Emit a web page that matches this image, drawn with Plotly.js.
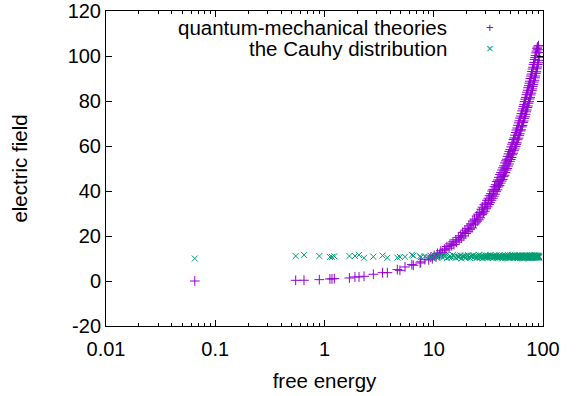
<!DOCTYPE html>
<html>
<head>
<meta charset="utf-8">
<script src="https://cdn.plot.ly/plotly-3.0.1.min.js"></script>
<style>html,body{margin:0;padding:0;background:#fff;}#chart{width:578px;height:396px;}</style>
</head>
<body>
<div id="chart"></div>
<script>
const seriesNames = ["quantum-mechanical theories", "the Cauhy distribution"];
const xTitle = "free energy";
const yTitle = "electric field";

const freeEnergy = [
0.065, 0.545, 0.649, 0.897, 1.12, 1.17, 1.23, 1.69, 1.90, 2.07, 2.30, 2.80, 3.40, 3.76, 4.64, 4.90, 5.46, 6.30, 6.50, 7.50, 7.60, 8.30,
9.0, 9.4, 9.7, 10.1, 10.5, 10.8, 11.3, 11.6, 12.0, 12.5, 12.9, 13.2, 13.8, 14.1, 14.6, 15.0, 15.3, 15.9, 16.2, 16.8, 17.1, 17.5, 18.0, 18.4,
18.9, 19.3, 19.6, 20.2, 20.7, 21.0, 21.5, 21.9, 22.4, 22.8, 23.3, 23.6, 24.1, 24.7, 25.0, 25.4, 25.9, 26.3, 26.6, 27.2, 27.7, 28.0, 28.5, 29.0,
29.3, 29.8, 30.2, 30.7, 31.1, 31.6, 32.0, 32.4, 32.9, 33.3, 33.8, 34.2, 34.7, 35.1, 35.5, 36.0, 36.4, 36.9, 37.3, 37.8, 38.2, 38.6, 39.1, 39.5,
40.0, 40.4, 40.9, 41.3, 41.8, 42.2, 42.7, 43.1, 43.5, 44.0, 44.4, 44.9, 45.3, 45.8, 46.2, 46.6, 47.1, 47.5, 48.0, 48.4, 48.9, 49.3, 49.8, 50.2,
50.6, 51.1, 51.5, 52.0, 52.4, 52.9, 53.3, 53.7, 54.2, 54.6, 55.1, 55.5, 56.0, 56.4, 56.8, 57.3, 57.7, 58.2, 58.6, 59.1, 59.5, 60.0, 60.4, 60.8,
61.3, 61.7, 62.2, 62.6, 63.1, 63.5, 63.9, 64.4, 64.8, 65.3, 65.7, 66.2, 66.6, 67.0, 67.5, 67.9, 68.4, 68.8, 69.3, 69.7, 70.1, 70.6, 71.0, 71.5,
71.9, 72.4, 72.8, 73.2, 73.7, 74.1, 74.6, 75.0, 75.5, 75.9, 76.3, 76.8, 77.2, 77.7, 78.1, 78.6, 79.0, 79.4, 79.9, 80.3, 80.8, 81.2, 81.7, 82.1,
82.5, 83.0, 83.4, 83.9, 84.3, 84.8, 85.2, 85.6, 86.1, 86.5, 87.0, 87.4, 87.9, 88.3, 88.7, 89.2, 89.6, 90.1, 90.5, 91.0, 91.4, 91.8, 92.3
];

const quantumField = [
0.0, 0.31, 0.33, 0.6, 0.9, 0.95, 1.05, 1.35, 1.8, 1.8, 2.1, 3.0, 3.7, 3.7, 5.05, 4.75, 6.24, 7.3, 7.0, 8.0, 8.5, 9.5,
9.4, 10.6, 9.9, 11.3, 10.7, 12.3, 11.8, 13.4, 12.6, 14.2, 13.8, 15.3, 14.6, 16.5, 15.7, 17.4, 16.2, 18.3, 17.3, 19.4, 18.2, 20.1, 19.1, 21.6,
20.0, 22.6, 21.1, 23.4, 22.1, 24.5, 23.0, 25.4, 23.6, 26.7, 25.0, 27.5, 25.8, 28.9, 26.6, 29.7, 27.2, 30.5, 28.1, 31.9, 29.5, 32.8, 30.2, 33.9,
31.0, 34.6, 32.1, 35.9, 33.0, 36.8, 34.0, 37.9, 34.8, 38.8, 35.9, 40.0, 36.8, 40.7, 37.7, 41.9, 38.6, 42.8, 39.7, 44.2, 40.5, 44.9, 41.8, 46.1,
42.4, 47.3, 43.5, 48.2, 44.4, 49.3, 45.1, 50.3, 46.4, 51.2, 47.0, 52.5, 48.2, 53.4, 49.3, 54.1, 50.0, 55.4, 51.1, 56.5, 52.0, 57.6, 53.2, 58.4,
54.0, 59.6, 54.9, 60.8, 56.1, 61.5, 56.8, 62.9, 57.9, 63.6, 58.7, 64.8, 59.8, 66.0, 60.7, 67.1, 61.4, 68.0, 62.8, 69.2, 63.5, 70.3, 64.6, 71.2,
65.4, 72.4, 66.7, 73.3, 67.2, 74.4, 68.5, 75.6, 69.1, 76.5, 70.4, 77.6, 71.1, 78.5, 72.3, 79.7, 73.0, 80.8, 74.1, 81.6, 75.2, 82.8, 76.0, 83.9,
77.1, 84.8, 77.8, 85.9, 79.0, 86.8, 79.7, 87.9, 80.9, 88.8, 81.6, 90.0, 82.7, 91.1, 83.5, 92.0, 84.6, 93.1, 85.4, 94.2, 86.5, 95.0, 87.3, 96.2,
88.4, 97.1, 89.2, 98.4, 90.3, 99.3, 91.1, 100.2, 92.3, 101.4, 93.0, 102.2, 94.3, 103.4, 95.1, 104.0, 96.2, 102.8, 97.0, 104.6, 98.1, 101.5, 99.4
];

const cauchyField = [
10.0, 11.1, 11.6, 11.1, 10.7, 10.7, 11.0, 11.1, 11.1, 11.6, 10.3, 10.8, 11.3, 10.3, 10.4, 10.7, 10.8, 11.6, 11.3, 11.0, 10.5, 10.9,
10.6, 11.2, 10.4, 11.5, 10.8, 10.2, 11.0, 11.4, 10.6, 10.9, 11.3, 10.1, 10.7, 11.1, 10.5, 11.6, 10.9, 10.3, 11.2, 10.8, 10.6, 11.4, 10.0, 11.0,
10.7, 11.3, 10.4, 10.9, 11.5, 10.6, 10.2, 11.1, 10.8, 11.4, 10.5, 10.9, 11.2, 10.3, 10.7, 11.0, 11.6, 10.6, 10.4, 11.3, 10.8, 10.1, 11.1, 10.9,
10.5, 11.4, 10.7, 11.0, 10.3, 11.2, 10.8, 10.6, 11.5, 10.4, 10.9, 11.1, 10.2, 10.7, 11.3, 10.8, 10.5, 11.0, 11.4, 10.6, 10.9, 10.3, 11.2, 10.7,
11.5, 10.4, 10.8, 11.1, 10.6, 10.0, 11.3, 10.9, 10.5, 11.0, 10.7, 11.4, 10.3, 10.8, 11.2, 10.6, 10.9, 11.6, 10.4, 10.7, 11.1, 10.2, 10.8, 11.3,
10.5, 11.0, 10.9, 10.6, 11.4, 10.3, 10.7, 11.2, 10.8, 10.5, 11.0, 11.5, 10.4, 10.9, 10.6, 11.1, 10.7, 10.2, 11.3, 10.8, 10.5, 11.0, 10.9, 11.4,
10.6, 10.3, 11.2, 10.7, 10.9, 11.1, 10.4, 10.8, 11.5, 10.6, 10.0, 11.0, 10.7, 11.3, 10.5, 10.9, 11.2, 10.4, 10.8, 11.1, 10.6, 11.4, 10.3, 10.7,
11.0, 10.9, 10.5, 11.3, 10.8, 10.2, 11.1, 10.6, 10.9, 11.5, 10.4, 10.7, 11.2, 10.8, 10.5, 11.0, 10.3, 11.4, 10.6, 10.9, 11.1, 10.7, 10.4, 11.3,
10.8, 10.6, 11.0, 11.6, 10.5, 10.9, 10.2, 11.2, 10.7, 11.4, 10.4, 10.8, 11.1, 10.6, 10.9, 11.3, 10.5, 10.7, 11.0, 10.3, 11.2, 10.8, 10.6
];

const xTickVals = [0.01, 0.1, 1, 10, 100];
const xTickText = ["0.01", "0.1", "1", "10", "100"];
const yTickVals = [-20, 0, 20, 40, 60, 80, 100, 120];
const yTickText = ["-20", "0", "20", "40", "60", "80", "100", "120"];

const purple = "#9400d3";
const green = "#009e73";
const FONT = "Liberation Sans, Arial, sans-serif";
const TXT = 20.5;

const traces = [
  {x: freeEnergy, y: quantumField, type: "scatter", mode: "markers", name: seriesNames[0],
   marker: {symbol: "cross-thin-open", size: 7, color: purple, line: {color: purple, width: 1}}},
  {x: freeEnergy, y: cauchyField, type: "scatter", mode: "markers", name: seriesNames[1],
   marker: {symbol: "x-thin-open", size: 6, color: green, line: {color: green, width: 1}}}
];

const axisCommon = {
  showline: true, linecolor: "#000", linewidth: 1, mirror: "ticks",
  ticks: "inside", ticklen: 6, tickcolor: "#000", tickwidth: 1,
  showgrid: false, zeroline: false,
  tickfont: {family: FONT, size: 20, color: "#000"}
};

const layout = {
  width: 578, height: 396,
  margin: {l: 106, r: 35, t: 11, b: 70},
  paper_bgcolor: "#fff", plot_bgcolor: "#fff",
  showlegend: false,
  font: {family: FONT, size: 20, color: "#000"},
  xaxis: Object.assign({}, axisCommon, {
    type: "log", range: [-2, 2], tickvals: xTickVals, ticktext: xTickText,
    ticklabelstandoff: 5,
    minor: {ticks: "inside", ticklen: 3, tickcolor: "#000", tickwidth: 1, dtick: "D1"},
    title: {text: xTitle, font: {family: FONT, size: TXT, color: "#000"}, standoff: 14}
  }),
  yaxis: Object.assign({}, axisCommon, {
    range: [-20, 120], tickvals: yTickVals, ticktext: yTickText,
    title: {text: yTitle, font: {family: FONT, size: TXT, color: "#000"}, standoff: 34}
  }),
  annotations: [
    {xref: "paper", yref: "paper", x: 0.785, y: 0.949, xanchor: "right", yanchor: "middle",
     text: seriesNames[0], showarrow: false, font: {family: FONT, size: TXT, color: "#000"}},
    {xref: "paper", yref: "paper", x: 0.785, y: 0.8824, xanchor: "right", yanchor: "middle",
     text: seriesNames[1], showarrow: false, font: {family: FONT, size: TXT, color: "#000"}},
    {xref: "paper", yref: "paper", x: 0.8787, y: 0.949, xanchor: "center", yanchor: "middle",
     text: "+", showarrow: false, font: {family: FONT, size: 13, color: purple}},
    {xref: "paper", yref: "paper", x: 0.8787, y: 0.8824, xanchor: "center", yanchor: "middle",
     text: "×", showarrow: false, font: {family: FONT, size: 13, color: green}}
  ]
};

Plotly.newPlot("chart", traces, layout, {displayModeBar: false, staticPlot: true});
</script>
</body>
</html>
